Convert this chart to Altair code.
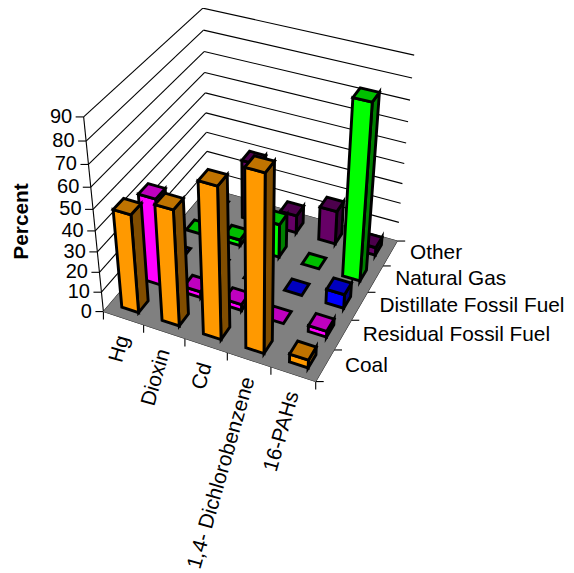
import numpy as np
import pandas as pd
import altair as alt

categories = ["Hg", "Dioxin", "Cd", "1,4- Dichlorobenzene", "16-PAHs"]
series = ["Coal", "Residual Fossil Fuel", "Distillate Fossil Fuel", "Natural Gas", "Other"]
coal = [48, 56, 72, 83, 4]
residual = [43, 3, 3, 0, 3]
distillate = [0, 0, 0, 0, 7]
natural_gas = [0, 3, 17, 0, 85]
other = [0, 30, 9, 17, 4]
percent_ticks = [0, 10, 20, 30, 40, 50, 60, 70, 80, 90]
front_colors = ["#FF9900", "#FF00FF", "#0000FF", "#00FF00", "#660066"]
top_colors = ["#BF7300", "#BF00BF", "#0000BF", "#00BF00", "#4C004C"]
side_colors = ["#804D00", "#800080", "#000080", "#008000", "#330033"]
table = [coal, residual, distillate, natural_gas, other]

# camera: a projective map fitted to the picture's box corners and ticks
world = [(0,0,0),(1,0,0),(2,0,0),(3,0,0),(4,0,0),(5,0,0),(5,1,0),(5,2,0),(5,3,0),(5,4,0),(5,5,0),(0,5,0),
         (0,0,90),(0,5,90),(5,5,90),(0,0,50),(5,5,50)]
pixel = [(103.3,311),(144,325),(185,339),(227,353),(271,368),(316,381),(333,349),(352,320),(367,292),(383,266),(397,241.5),(208,188),
         (83.5,117),(202.7,8.3),(414,55),(93.3,209),(406.7,143)]
A, b = [], []
for (X,Y,Z),(u,v) in zip(world,pixel):
    A.append([X,Y,Z,1,0,0,0,0,-u*X,-u*Y,-u*Z]); b.append(u)
    A.append([0,0,0,0,X,Y,Z,1,-v*X,-v*Y,-v*Z]); b.append(v)
P = np.append(np.linalg.lstsq(np.array(A,float),np.array(b,float),rcond=None)[0],1.0).reshape(3,4)

def proj(X,Y,Z):
    p = P @ np.array([X,Y,Z,1.0])
    return float(p[0]/p[2]), float(p[1]/p[2])

HALF = 0.21
rows = []
pid = 0
def poly(color, corners):
    global pid
    pid += 1
    for i,c in enumerate(corners):
        x,y = proj(*c)
        rows.append(dict(key=f"p{pid:04d}", x=x, y=y, i=i, color=color))

for s in range(4,-1,-1):
    for c in range(5):
        v = table[s][c]
        x0,x1 = c+.5-HALF, c+.5+HALF
        y0,y1 = s+.5-HALF, s+.5+HALF
        if v > 0:
            poly(side_colors[s], [(x1,y0,0),(x1,y1,0),(x1,y1,v),(x1,y0,v)])
            poly(front_colors[s], [(x0,y0,0),(x1,y0,0),(x1,y0,v),(x0,y0,v)])
        poly(top_colors[s], [(x0,y0,v),(x1,y0,v),(x1,y1,v),(x0,y1,v)])
bars = pd.DataFrame(rows)

floor = pd.DataFrame([dict(key="f", x=proj(*c)[0], y=proj(*c)[1], i=i, color="#808080")
                      for i,c in enumerate([(0,0,0),(5,0,0),(5,5,0),(0,5,0)])])

lines = []
for t in percent_ticks:
    a,b_,c_ = proj(0,0,t), proj(0,5,t), proj(5,5,t)
    lines.append(dict(x=a[0],y=a[1],x2=b_[0],y2=b_[1]))
    lines.append(dict(x=b_[0],y=b_[1],x2=c_[0],y2=c_[1]))
    lines.append(dict(x=a[0]-8,y=a[1],x2=a[0],y2=a[1]))
a,b_ = proj(0,0,0), proj(0,0,90)
lines.append(dict(x=a[0],y=a[1],x2=b_[0],y2=b_[1]))
a,b_ = proj(0,0,0), proj(5,0,0)
lines.append(dict(x=a[0],y=a[1],x2=b_[0],y2=b_[1]))
a,b_ = proj(5,0,0), proj(5,5,0)
lines.append(dict(x=a[0],y=a[1],x2=b_[0],y2=b_[1]))
for i in range(6):
    a = proj(i,0,0)
    lines.append(dict(x=a[0],y=a[1],x2=a[0],y2=a[1]+8))
    a = proj(5,i,0)
    lines.append(dict(x=a[0],y=a[1],x2=a[0]+8,y2=a[1]))
rules = pd.DataFrame(lines)

FONT = "Liberation Sans"
xs = alt.Scale(domain=[8,566], nice=False, zero=False)
ys = alt.Scale(domain=[573,8], nice=False, zero=False)
X = alt.X("x:Q", scale=xs, axis=None)
Y = alt.Y("y:Q", scale=ys, axis=None)

def poly_layer(df, **kw):
    return alt.Chart(df).mark_line(interpolate="linear-closed", **kw).encode(
        x=X, y=Y, detail="key:N", order="i:Q", fill=alt.Fill("color:N", scale=None))

rule_layer = alt.Chart(rules).mark_rule(color="black", strokeWidth=1.1).encode(x=X, y=Y, x2="x2:Q", y2="y2:Q")
floor_layer = poly_layer(floor, stroke="#808080", strokeWidth=0.5)
bar_layer = poly_layer(bars, stroke="black", strokeWidth=2.9, strokeJoin="miter", strokeMiterLimit=10)

pt = pd.DataFrame([dict(x=proj(0,0,t)[0]-11.5, y=proj(0,0,t)[1], t=str(t)) for t in percent_ticks])
pt_layer = alt.Chart(pt).mark_text(font=FONT, fontSize=20, align="right", baseline="middle", color="black").encode(x=X, y=Y, text="t:N")

cat = pd.DataFrame([dict(x=proj(i+.5,0,0)[0], y=proj(i+.5,0,0)[1]+18, t=n) for i,n in enumerate(categories)])
cat_layer = alt.Chart(cat).mark_text(font=FONT, fontSize=20.9, align="right", baseline="middle", angle=286, color="black").encode(x=X, y=Y, text="t:N")

ser = pd.DataFrame([dict(x=proj(5,i+.5,0)[0]+20, y=proj(5,i+.5,0)[1], t=n) for i,n in enumerate(series)])
ser_layer = alt.Chart(ser).mark_text(font=FONT, fontSize=20.8, align="left", baseline="middle", color="black").encode(x=X, y=Y, text="t:N")

title = pd.DataFrame([dict(x=21.5, y=221.5, t="Percent")])
title_layer = alt.Chart(title).mark_text(font=FONT, fontSize=20.8, fontWeight="bold", align="center", baseline="middle", angle=270, color="black").encode(x=X, y=Y, text="t:N")

chart = alt.layer(
    rule_layer, floor_layer, bar_layer, pt_layer, cat_layer, ser_layer, title_layer
).properties(width=558, height=565, padding=0, autosize=alt.AutoSizeParams(type="none"), background="white").configure_view(stroke=None)

chart.save("out.html", embed_options={"renderer": "svg", "actions": False})
